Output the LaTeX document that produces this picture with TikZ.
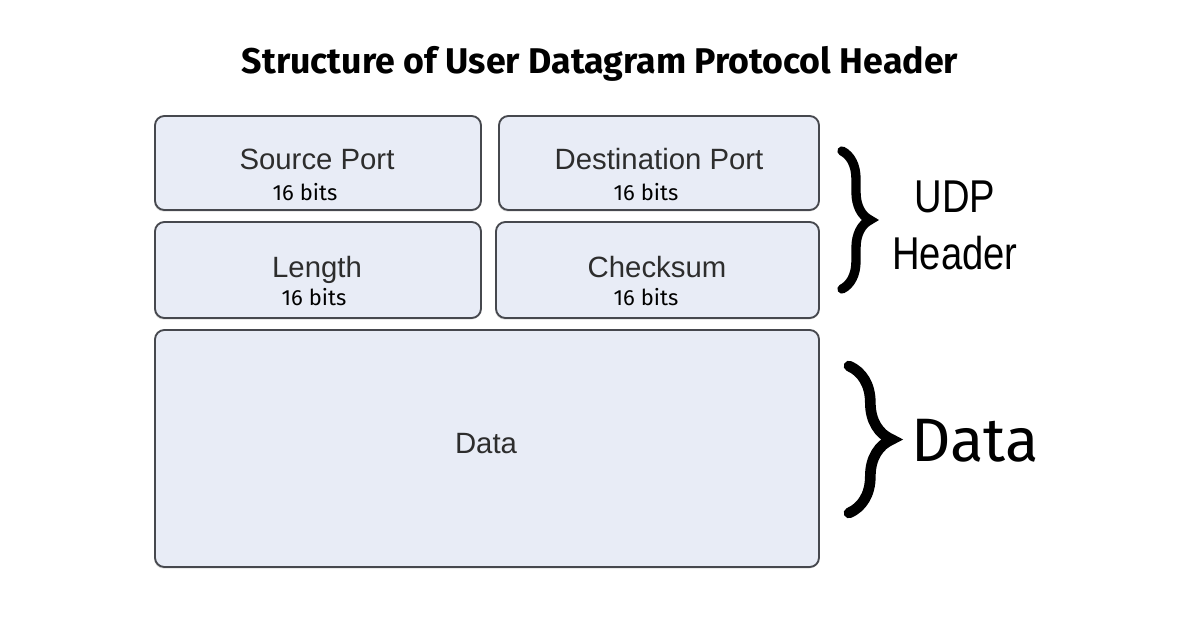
\documentclass[tikz,border=0pt]{standalone}
\usepackage{fontspec}
\setmainfont{Liberation Sans}
\newfontfamily\plexfont{Fira Sans}
\usepackage{xcolor}
\usepackage{tikz}
\usetikzlibrary{decorations.pathreplacing,shadows}

\definecolor{boxfill}{RGB}{232,236,246}
\definecolor{boxline}{RGB}{70,72,78}
\definecolor{labeltext}{RGB}{45,45,45}

\begin{document}
\begin{tikzpicture}[x=0.75pt,y=0.75pt,yscale=-1,xscale=1,
  fieldbox/.style={draw=boxline, line width=1.4pt, fill=boxfill, rounded corners=7pt, inner sep=0pt,
    drop shadow={opacity=0.25, shadow xshift=-0.6pt, shadow yshift=-1.2pt}},
  fieldname/.style={inner sep=0pt, text=labeltext, text height=16pt, text depth=4.5pt, font=\fontsize{22}{24}\selectfont},
  bitsize/.style={inner sep=0pt, font=\plexfont\fontsize{16.5}{18}\selectfont},
  bracemark/.style={decorate, line width=7pt, line cap=round},
  sidelabel/.style={inner sep=0pt, align=center}]
%set diagram area, 1200 x 628
\fill[white] (0,0) rectangle (1200,628);

% Title
\draw (600,64) node [inner sep=0pt] (title) {\plexfont\bfseries\fontsize{26.8}{30}\selectfont Structure of User Datagram Protocol Header};

%Shape: Rectangle [source port]
\node [fieldbox, minimum width=244.5pt, minimum height=70.5pt] (srcbox) at (318,163) {};
%Shape: Rectangle [destination port]
\node [fieldbox, minimum width=240pt, minimum height=70.5pt] (dstbox) at (659,163) {};
%Shape: Rectangle [length]
\node [fieldbox, minimum width=244.5pt, minimum height=72pt] (lenbox) at (318,270) {};
%Shape: Rectangle [checksum]
\node [fieldbox, minimum width=242.25pt, minimum height=72pt] (sumbox) at (657.5,270) {};
%Shape: Rectangle [data]
\node [fieldbox, minimum width=498pt, minimum height=177.75pt] (databox) at (487,448.5) {};

% Text Node
\draw (317,162) node [fieldname] (srcname) {Source Port};
% Text Node
\draw (305,192) node [bitsize] (srcbits) {16 bits};
% Text Node
\draw (659,162) node [fieldname] (dstname) {Destination Port};
% Text Node
\draw (646,192) node [bitsize] (dstbits) {16 bits};
% Text Node
\draw (317,270) node [fieldname] (lenname) {Length};
% Text Node
\draw (314,297) node [bitsize] (lenbits) {16 bits};
% Text Node
\draw (657,270) node [fieldname] (sumname) {Checksum};
% Text Node
\draw (646,297) node [bitsize] (sumbits) {16 bits};
% Text Node
\draw (486,446) node [fieldname] (dataname) {Data};

%Braces
\coordinate (hdtop) at (842,151);
\coordinate (hdbot) at (842,289);
\draw [bracemark, decoration={brace, amplitude=21pt}] (hdtop) -- (hdbot);
\coordinate (dttop) at (849,366);
\coordinate (dtbot) at (849,513);
\draw [bracemark, line width=8pt, decoration={brace, amplitude=32pt}] (dttop) -- (dtbot);

% Text Node
\draw (955,197) node [sidelabel, xscale=0.83] (udplabel) {\fontsize{34.5}{36}\selectfont UDP};
% Text Node
\draw (955,253) node [sidelabel, xscale=0.83] (hdrlabel) {\fontsize{34.5}{36}\selectfont Header};
% Text Node
\draw (975,441) node [sidelabel] (datalabel) {\plexfont\fontsize{46}{48}\selectfont Data};
\end{tikzpicture}
\end{document}
